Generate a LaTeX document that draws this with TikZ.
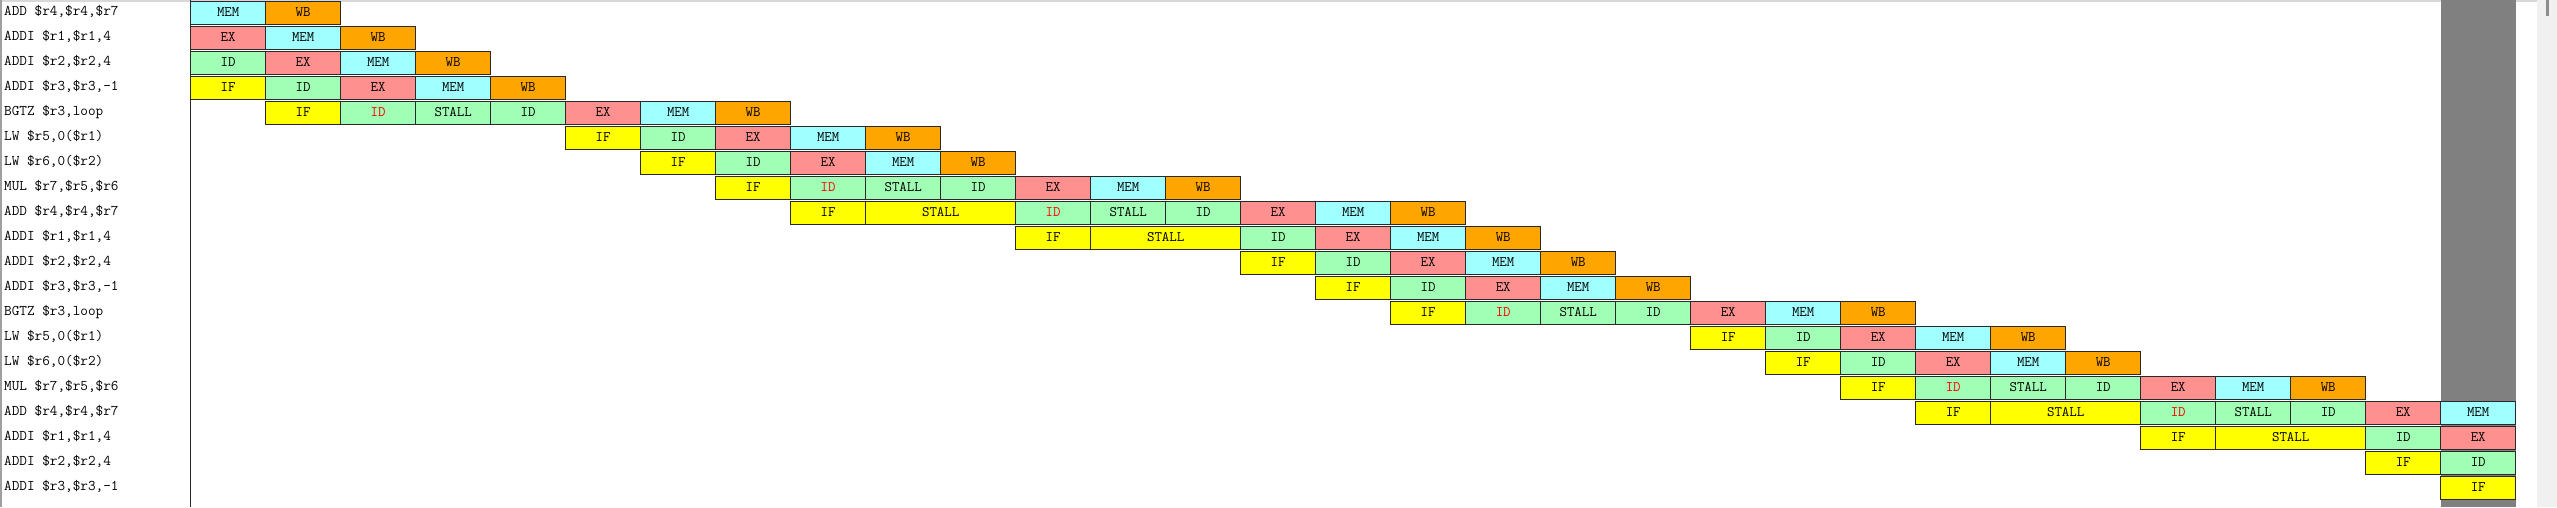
\documentclass[tikz,border=0pt]{standalone}
\usepackage{fontspec}
\definecolor{cIF}{HTML}{FFFF00}
\definecolor{cID}{HTML}{A0FFB4}
\definecolor{cEX}{HTML}{FF9090}
\definecolor{cMEM}{HTML}{A0FFFF}
\definecolor{cWB}{HTML}{FFA500}
\definecolor{bord}{HTML}{2A2A2A}
\definecolor{hot}{HTML}{FF0000}
\definecolor{colgray}{HTML}{808080}
\definecolor{frame}{HTML}{A0A0A0}
\definecolor{topline}{HTML}{D8D8D8}
\definecolor{scroll}{HTML}{F0F0F0}
\definecolor{thumb}{HTML}{8C8C8C}
\begin{document}
\begin{tikzpicture}[x=1pt,y=-1pt,
  cell/.style={draw=bord, line width=1.1pt, minimum width=75pt, minimum height=22.7pt,
    inner sep=0pt, outer sep=0pt, anchor=north west,
    font=\ttfamily\fontsize{14.5}{14.5}\selectfont, text height=9pt, text depth=2pt},
  sIF/.style={cell, fill=cIF},
  sID/.style={cell, fill=cID},
  sIDR/.style={cell, fill=cID, text=hot},
  sST/.style={cell, fill=cID},
  sSTY/.style={cell, fill=cIF, minimum width=150pt},
  sEX/.style={cell, fill=cEX},
  sMEM/.style={cell, fill=cMEM},
  sWB/.style={cell, fill=cWB},
  lab/.style={anchor=base west, inner sep=0pt, font=\ttfamily\fontsize{14.8}{14.8}\selectfont}]
\useasboundingbox (0,0) rectangle (2557,507);
\fill[white] (0,0) rectangle (2557,507);
% window details
\fill[scroll] (2537,0) rectangle (2557,507);
\fill[thumb] (2546,0) rectangle (2549,16);
\fill[topline] (0,0) rectangle (2537,1.5);
\fill[frame] (0,0) rectangle (2,507);
\fill[colgray] (2440.7,0) rectangle (2515.7,507);
\draw[draw=bord, line width=1.2pt] (190.7,0) -- (190.7,507);
% labels
\foreach \r/\t in {0/{ADD \$r4,\$r4,\$r7}, 1/{ADDI \$r1,\$r1,4}, 2/{ADDI \$r2,\$r2,4}, 3/{ADDI \$r3,\$r3,-1},
  4/{BGTZ \$r3,loop}, 5/{LW \$r5,0(\$r1)}, 6/{LW \$r6,0(\$r2)}, 7/{MUL \$r7,\$r5,\$r6},
  8/{ADD \$r4,\$r4,\$r7}, 9/{ADDI \$r1,\$r1,4}, 10/{ADDI \$r2,\$r2,4}, 11/{ADDI \$r3,\$r3,-1},
  12/{BGTZ \$r3,loop}, 13/{LW \$r5,0(\$r1)}, 14/{LW \$r6,0(\$r2)}, 15/{MUL \$r7,\$r5,\$r6},
  16/{ADD \$r4,\$r4,\$r7}, 17/{ADDI \$r1,\$r1,4}, 18/{ADDI \$r2,\$r2,4}, 19/{ADDI \$r3,\$r3,-1}}
  \node[lab] (l\r) at (4,{15+25*\r}) {\t};
% pipeline cells
\foreach \r/\c/\s/\t in {
  0/0/sMEM/MEM, 0/1/sWB/WB,
  1/0/sEX/EX, 1/1/sMEM/MEM, 1/2/sWB/WB,
  2/0/sID/ID, 2/1/sEX/EX, 2/2/sMEM/MEM, 2/3/sWB/WB,
  3/0/sIF/IF, 3/1/sID/ID, 3/2/sEX/EX, 3/3/sMEM/MEM, 3/4/sWB/WB,
  4/1/sIF/IF, 4/2/sIDR/ID, 4/3/sST/STALL, 4/4/sID/ID, 4/5/sEX/EX, 4/6/sMEM/MEM, 4/7/sWB/WB,
  5/5/sIF/IF, 5/6/sID/ID, 5/7/sEX/EX, 5/8/sMEM/MEM, 5/9/sWB/WB,
  6/6/sIF/IF, 6/7/sID/ID, 6/8/sEX/EX, 6/9/sMEM/MEM, 6/10/sWB/WB,
  7/7/sIF/IF, 7/8/sIDR/ID, 7/9/sST/STALL, 7/10/sID/ID, 7/11/sEX/EX, 7/12/sMEM/MEM, 7/13/sWB/WB,
  8/8/sIF/IF, 8/9/sSTY/STALL, 8/11/sIDR/ID, 8/12/sST/STALL, 8/13/sID/ID, 8/14/sEX/EX, 8/15/sMEM/MEM, 8/16/sWB/WB,
  9/11/sIF/IF, 9/12/sSTY/STALL, 9/14/sID/ID, 9/15/sEX/EX, 9/16/sMEM/MEM, 9/17/sWB/WB,
  10/14/sIF/IF, 10/15/sID/ID, 10/16/sEX/EX, 10/17/sMEM/MEM, 10/18/sWB/WB,
  11/15/sIF/IF, 11/16/sID/ID, 11/17/sEX/EX, 11/18/sMEM/MEM, 11/19/sWB/WB,
  12/16/sIF/IF, 12/17/sIDR/ID, 12/18/sST/STALL, 12/19/sID/ID, 12/20/sEX/EX, 12/21/sMEM/MEM, 12/22/sWB/WB,
  13/20/sIF/IF, 13/21/sID/ID, 13/22/sEX/EX, 13/23/sMEM/MEM, 13/24/sWB/WB,
  14/21/sIF/IF, 14/22/sID/ID, 14/23/sEX/EX, 14/24/sMEM/MEM, 14/25/sWB/WB,
  15/22/sIF/IF, 15/23/sIDR/ID, 15/24/sST/STALL, 15/25/sID/ID, 15/26/sEX/EX, 15/27/sMEM/MEM, 15/28/sWB/WB,
  16/23/sIF/IF, 16/24/sSTY/STALL, 16/26/sIDR/ID, 16/27/sST/STALL, 16/28/sID/ID, 16/29/sEX/EX, 16/30/sMEM/MEM,
  17/26/sIF/IF, 17/27/sSTY/STALL, 17/29/sID/ID, 17/30/sEX/EX,
  18/29/sIF/IF, 18/30/sID/ID,
  19/30/sIF/IF}
  \node[\s] (c\r-\c) at ({190.7+75*\c},{1.7+25*\r}) {\t};
\end{tikzpicture}
\end{document}
